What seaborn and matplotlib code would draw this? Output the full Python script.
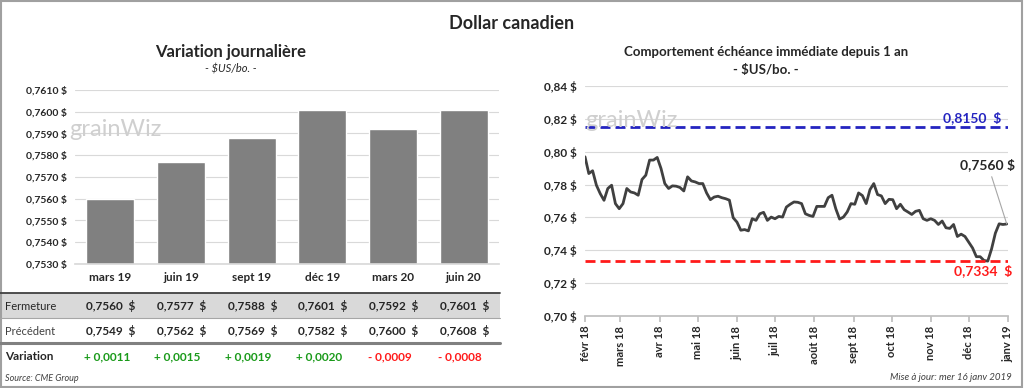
import numpy as np
import pandas as pd
import matplotlib
matplotlib.use('Agg')
import matplotlib.pyplot as plt
import seaborn as sns
from matplotlib.transforms import blended_transform_factory
from matplotlib.lines import Line2D
from matplotlib.patches import Rectangle

# daily variation (left)
contracts = ['mars 19', 'juin 19', 'sept 19', 'déc 19', 'mars 20', 'juin 20']
closes = [0.7560, 0.7577, 0.7588, 0.7601, 0.7592, 0.7601]
previous = [0.7549, 0.7562, 0.7569, 0.7582, 0.7600, 0.7608]
variation = [0.0011, 0.0015, 0.0019, 0.0020, -0.0009, -0.0008]

# nearby contract over 1 year (right), read every 3 days
dates = pd.date_range('2018-02-01', periods=112, freq='3D')
nearby = [0.7969, 0.7867, 0.7884, 0.7796, 0.7745, 0.7704, 0.7776, 0.7796, 0.7684, 0.7653,
          0.7684, 0.7776, 0.7755, 0.7749, 0.7735, 0.7831, 0.7857, 0.7949, 0.7949, 0.7965,
          0.7898, 0.7806, 0.7776, 0.7792, 0.7790, 0.7782, 0.7761, 0.7847, 0.7822, 0.7816,
          0.7806, 0.7806, 0.7749, 0.7708, 0.7724, 0.7729, 0.7720, 0.7714, 0.7705, 0.7598,
          0.7571, 0.7522, 0.7526, 0.7518, 0.7592, 0.7582, 0.7622, 0.7631, 0.7582, 0.7602,
          0.7592, 0.7606, 0.7602, 0.7663, 0.7680, 0.7694, 0.7692, 0.7684, 0.7622, 0.7612,
          0.7606, 0.7667, 0.7667, 0.7667, 0.7720, 0.7735, 0.7653, 0.7590, 0.7602, 0.7633,
          0.7684, 0.7680, 0.7749, 0.7733, 0.7684, 0.7769, 0.7806, 0.7739, 0.7731, 0.7684,
          0.7710, 0.7708, 0.7653, 0.7680, 0.7647, 0.7633, 0.7618, 0.7637, 0.7643, 0.7592,
          0.7582, 0.7592, 0.7582, 0.7557, 0.7578, 0.7537, 0.7533, 0.7557, 0.7484, 0.7498,
          0.7484, 0.7449, 0.7414, 0.7361, 0.7361, 0.7338, 0.7334, 0.7408, 0.7504, 0.7561,
          0.7557, 0.7560]
high_level = 0.8150
low_level = 0.7334
month_ticks = pd.date_range('2018-02-01', '2019-01-01', freq='MS')
month_labels = ['févr 18', 'mars 18', 'avr 18', 'mai 18', 'juin 18', 'juil 18',
                'août 18', 'sept 18', 'oct 18', 'nov 18', 'déc 18', 'janv 19']


def fmt(v, d):
    return f"{v:.{d}f}".replace('.', ',')


sns.set_theme(style='white')
plt.rcParams['font.family'] = ['Lato', 'DejaVu Sans']

fig = plt.figure(figsize=(10.24, 3.88), dpi=100)
ax1 = fig.add_axes([0.0732, 0.3196, 0.414, 0.4485])
ax2 = fig.add_axes([0.5713, 0.1856, 0.4131, 0.5928])

fig.text(0.5, 0.94, 'Dollar canadien', ha='center', va='center', fontsize=13, fontweight='bold')

# ---- left: bars
sns.barplot(x=contracts, y=closes, color='#808080', saturation=1, width=0.68, ax=ax1)
ax1.set_xlim(-0.5, 5.5)
yt = np.round(np.arange(0.7530, 0.76101, 0.001), 4)
ax1.set_ylim(0.7530, 0.7610)
ax1.set_yticks(yt)
ax1.set_yticklabels([fmt(v, 4) + ' $' for v in yt], fontweight='bold', fontsize=7.5)
ax1.set_xticks(range(len(contracts)))
ax1.set_xticklabels(contracts, fontweight='bold', fontsize=8.5)
ax1.tick_params(axis='both', length=0, pad=6)
ax1.yaxis.grid(True, color='#d9d9d9', lw=0.8)
ax1.set_axisbelow(True)
for s in ['top', 'right', 'left']:
    ax1.spines[s].set_visible(False)
ax1.spines['bottom'].set_color('#d9d9d9')
ax1.set_xlabel('')
ax1.set_ylabel('')
fig.text(0.2256, 0.866, 'Variation journalière', ha='center', va='center', fontsize=12, fontweight='bold')
fig.text(0.2256, 0.822, '- $US/bo. -', ha='center', va='center', fontsize=8, style='italic')
fig.text(0.068, 0.665, 'grainWiz', ha='left', va='center', fontsize=17, color='#cfcfcf')

# table under the bars
tr = blended_transform_factory(ax1.transData, fig.transFigure)
fig.add_artist(Rectangle((0, 0.1804), 0.488, 0.0644, transform=fig.transFigure,
                         facecolor='#d9d9d9', edgecolor='none', zorder=0))
fig.add_artist(Line2D([0, 0.488], [0.2448, 0.2448], transform=fig.transFigure, color='#404040', lw=1.3))
fig.add_artist(Line2D([0, 0.488], [0.1804, 0.1804], transform=fig.transFigure, color='#a6a6a6', lw=0.8))
fig.add_artist(Line2D([0, 0.488], [0.1160, 0.1160], transform=fig.transFigure, color='#808080', lw=2.2))
fig.text(0.005, 0.2113, 'Fermeture', ha='left', va='center', fontsize=8, color='#262626')
fig.text(0.005, 0.1469, 'Précédent', ha='left', va='center', fontsize=8, color='#404040')
fig.text(0.005, 0.0799, 'Variation', ha='left', va='center', fontsize=8.5, fontweight='bold')
for i in range(len(contracts)):
    ax1.text(i + 0.36, 0.2113, fmt(closes[i], 4) + '  $', transform=tr, ha='right', va='center',
             fontsize=8.5, fontweight='bold')
    ax1.text(i + 0.36, 0.1469, fmt(previous[i], 4) + '  $', transform=tr, ha='right', va='center',
             fontsize=8.5, fontweight='bold')
    v = variation[i]
    txt = ('+ ' if v > 0 else '- ') + fmt(abs(v), 4)
    ax1.text(i - 0.05, 0.0799, txt, transform=tr, ha='center', va='center', fontsize=8.5,
             fontweight='bold', color='#1a9a1a' if v > 0 else '#ff1a1a')
fig.text(0.005, 0.0232, 'Source: CME Group', ha='left', va='center', fontsize=6.5, style='italic',
         color='#404040')

# ---- right: line
sns.lineplot(x=dates, y=nearby, color='#404040', lw=2, ax=ax2)
ax2.axhline(high_level, color='#2424c0', lw=2, ls=(0, (3.6, 1.8)))
ax2.axhline(low_level, color='#ff1a1a', lw=2, ls=(0, (3.6, 1.8)))
yt2 = np.round(np.arange(0.70, 0.8401, 0.02), 2)
ax2.set_ylim(0.70, 0.84)
ax2.set_yticks(yt2)
ax2.set_yticklabels([fmt(v, 2) + ' $' for v in yt2], fontweight='bold', fontsize=8.5)
ax2.set_xticks(month_ticks)
ax2.set_xticklabels(month_labels, rotation=90, fontweight='bold', fontsize=8)
ax2.set_xlim(month_ticks[0], month_ticks[-1])
ax2.tick_params(axis='y', length=0, pad=6)
ax2.tick_params(axis='x', length=4, color='#bfbfbf', direction='out', bottom=True, pad=3)
ax2.yaxis.grid(True, color='#d9d9d9', lw=0.8)
ax2.set_axisbelow(True)
for s in ['top', 'right', 'left']:
    ax2.spines[s].set_visible(False)
ax2.spines['bottom'].set_color('#bfbfbf')
ax2.set_xlabel('')
ax2.set_ylabel('')
ax2.text(0.985, high_level + 0.002, fmt(high_level, 4) + '  $', transform=ax2.get_yaxis_transform(),
         ha='right', va='bottom', fontsize=10, fontweight='bold', color='#2424c0')
ax2.text(1.01, low_level - 0.002, fmt(low_level, 4) + '  $', transform=ax2.get_yaxis_transform(),
         ha='right', va='top', fontsize=10, fontweight='bold', color='#ff1a1a')
ax2.annotate(fmt(nearby[-1], 4) + ' $', xy=(dates[-1], nearby[-1]), xytext=(pd.Timestamp('2018-12-16'), 0.7923),
             ha='center', va='center', fontsize=10, fontweight='bold',
             arrowprops=dict(arrowstyle='-', color='#a6a6a6', lw=0.8, shrinkA=2, shrinkB=0))
fig.text(0.748, 0.866, 'Comportement échéance immédiate depuis 1 an', ha='center', va='center',
         fontsize=9.5, fontweight='bold')
fig.text(0.748, 0.8196, '- $US/bo. -', ha='center', va='center', fontsize=9.5, fontweight='bold')
fig.text(0.572, 0.69, 'grainWiz', ha='left', va='center', fontsize=17, color='#cfcfcf')

fig.text(0.988, 0.0258, 'Mise à jour: mer 16 janv 2019', ha='right', va='center', fontsize=7,
         style='italic', color='#404040')
fig.add_artist(Rectangle((0.001, 0.002), 0.997, 0.995, transform=fig.transFigure, fill=False,
                         edgecolor='#a0a0a0', lw=1.5))

fig.savefig('out.png', dpi=100)
